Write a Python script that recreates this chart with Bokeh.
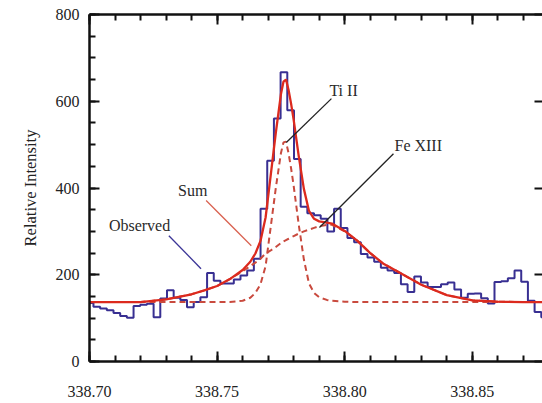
from bokeh.plotting import figure
from bokeh.models import Range1d, LinearAxis, SingleIntervalTicker, PrintfTickFormatter, CustomJSTickFormatter
from bokeh.core.properties import value
from bokeh.embed import file_html
from bokeh.resources import INLINE

# ---- data ----
# Observed histogram (step), regular bins
bin_start = 338.69893
bin_width = 0.002619
observed = [135, 126, 122, 118, 112, 105, 101, 128, 131, 133, 102, 145, 164, 147, 142, 125,
            137, 148, 204, 186, 180, 180, 189, 198, 210, 237, 352, 463, 560, 667, 579, 467,
            357, 342, 337, 329, 300, 352, 308, 285, 275, 248, 240, 230, 216, 210, 204, 178,
            160, 196, 182, 172, 172, 178, 182, 166, 147, 156, 157, 146, 134, 183, 185, 192,
            210, 184, 140, 114, 102]

# Model curves sampled at these wavelengths
wl = [338.700, 338.710, 338.720, 338.730, 338.740, 338.745, 338.750, 338.755, 338.760,
      338.763, 338.765, 338.767, 338.769, 338.771, 338.773, 338.775, 338.776, 338.777,
      338.778, 338.779, 338.780, 338.782, 338.784, 338.786, 338.788, 338.790, 338.793,
      338.795, 338.800, 338.805, 338.810, 338.815, 338.820, 338.830, 338.840, 338.850,
      338.860, 338.870, 338.880]
fe_xiii = [137, 137, 137, 143, 155, 164, 174, 190, 208, 220, 228, 237, 249, 256, 264, 273,
           277, 280, 283, 286, 289, 295, 300, 304, 308, 312, 315, 315, 300, 278, 250, 226,
           210, 177, 153, 141, 138, 137, 137]
ti_ii = [137, 137, 137, 137, 137, 137, 137, 137, 140, 147, 158, 178, 220, 310, 400, 480,
         505, 507, 480, 445, 405, 315, 235, 180, 158, 148, 142, 140, 138, 137, 137, 137,
         137, 137, 137, 137, 137, 137, 137]
sum_fit = [137, 137, 137, 143, 155, 164, 174, 190, 211, 230, 249, 278, 332, 429, 527, 616,
           645, 650, 626, 594, 557, 473, 398, 347, 329, 323, 320, 318, 301, 278, 250, 226,
           210, 177, 153, 141, 138, 137, 137]

# Annotations
labels = ["Observed", "Sum", "Ti II", "Fe XIII"]
label_x = [338.7076, 338.7347, 338.7940, 338.8195]
label_y = [313, 394, 625, 498]
leader_x0 = [338.7311, 338.7457, 338.7948, 338.8191]
leader_y0 = [290, 371, 606, 479]
leader_x1 = [338.7437, 338.7634, 338.7771, 338.7901]
leader_y1 = [214, 267, 505, 309]
leader_colors = ["#3b3597", "#d9604f", "#222222", "#222222"]

x_ticks_interval = 0.05
y_ticks_interval = 200

# ---- figure ----
BLUE = "#382f92"
RED = "#dc2a1e"
DRED = "#c94a3e"
FONT = "Liberation Serif"

p = figure(width=542, height=403, output_backend="svg", toolbar_location=None,
           x_range=Range1d(338.70, 338.8775), y_range=Range1d(0, 800))
p.min_border_left = 89
p.min_border_top = 14
p.min_border_bottom = 42
p.min_border_right = 0
p.outline_line_color = None
p.grid.visible = False
p.background_fill_color = "white"

edges = [bin_start + i * bin_width for i in range(len(observed) + 1)]
p.step(x=edges, y=observed + [observed[-1]], mode="after", line_color=BLUE, line_width=2)

p.line(wl, fe_xiii, line_color=DRED, line_width=2, line_dash="6 4")
p.line(wl, ti_ii, line_color=DRED, line_width=2, line_dash="6 4")
p.line(wl, sum_fit, line_color=RED, line_width=2.3)

p.segment(x0=leader_x0, y0=leader_y0, x1=leader_x1, y1=leader_y1,
          line_color=leader_colors, line_width=1.3)
p.text(x=label_x, y=label_y, text=labels, text_font=value(FONT), text_font_size="16px",
       text_color="#2a2a2a", text_baseline="middle", text_align="left")

xt = SingleIntervalTicker(interval=x_ticks_interval, num_minor_ticks=5)
yt = SingleIntervalTicker(interval=y_ticks_interval, num_minor_ticks=4)


def style(ax):
    ax.axis_line_color = "#111111"
    ax.axis_line_width = 2.5
    ax.major_tick_line_color = "#111111"
    ax.minor_tick_line_color = "#111111"
    ax.major_tick_line_width = 2
    ax.minor_tick_line_width = 2
    ax.major_tick_in = 10
    ax.major_tick_out = 0
    ax.minor_tick_in = 6
    ax.minor_tick_out = 0
    ax.major_label_text_font = FONT
    ax.major_label_text_font_size = "16px"
    ax.major_label_text_color = "#222222"


xa = p.xaxis[0]
xa.ticker = xt
xa.formatter = PrintfTickFormatter(format="%.2f")
style(xa)
xa.major_label_standoff = 24

ya = p.yaxis[0]
ya.ticker = yt
ya.formatter = PrintfTickFormatter(format="%d")
style(ya)
ya.major_label_standoff = 10
ya.axis_label = "Relative Intensity"
ya.axis_label_text_font = FONT
ya.axis_label_text_font_size = "16.5px"
ya.axis_label_text_font_style = "normal"
ya.axis_label_text_color = "#222222"
ya.axis_label_standoff = 13

blank = CustomJSTickFormatter(code="return '';")

top = LinearAxis(ticker=SingleIntervalTicker(interval=x_ticks_interval, num_minor_ticks=5),
                 formatter=blank)
style(top)
top.major_label_standoff = 0
p.add_layout(top, "above")

right = LinearAxis(ticker=SingleIntervalTicker(interval=y_ticks_interval, num_minor_ticks=4),
                   formatter=blank)
style(right)
right.axis_line_color = None
right.minor_tick_line_color = None
right.major_tick_in = 8
right.major_label_standoff = 0
p.add_layout(right, "right")

open("out.html", "w").write(file_html(p, INLINE))
